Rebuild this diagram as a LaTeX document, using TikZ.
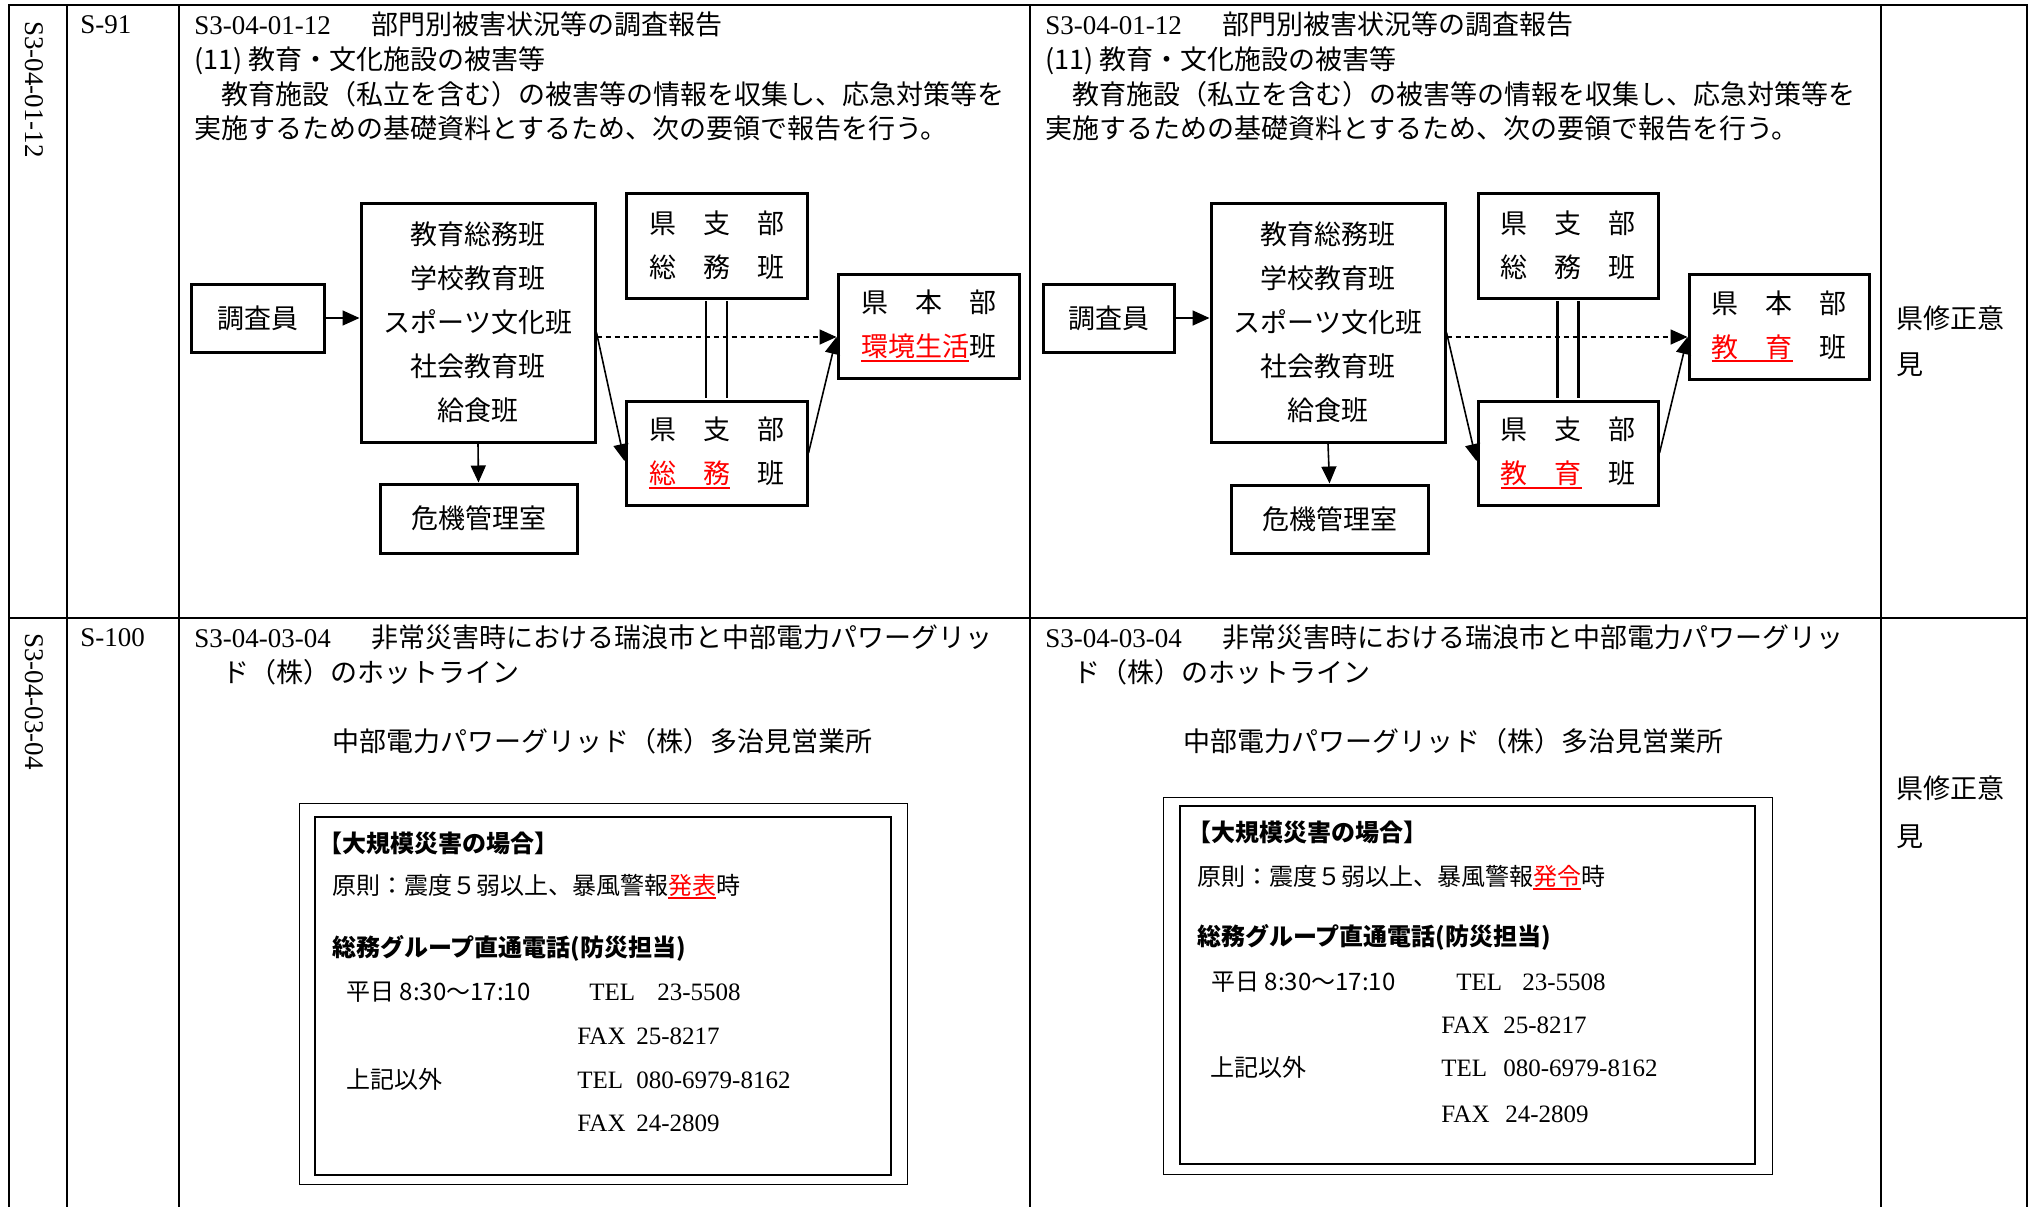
\documentclass[tikz,border=0pt]{standalone}
\usepackage{fontspec}
\setmainfont{Liberation Serif}
\newfontfamily\jp{Noto Sans CJK JP}
\usetikzlibrary{arrows.meta}
\newcommand\akasen[1]{{\color{red}\setbox0\hbox{#1}\rlap{\rule[-2.5pt]{\wd0}{1pt}}\box0}}
\tikzset{
  hyo/.style={line width=1.2pt, line cap=rect},
  waku/.style={draw, line width=1.5pt, inner sep=0pt, align=center, font=\jp\fontsize{13.5}{22}\selectfont},
  ya/.style={line width=0.8pt, -{Triangle[length=8.5pt,width=7.5pt]}},
  moji/.style={anchor=base west, inner sep=0pt, font=\jp\fontsize{13.5}{17}\selectfont},
  kigo/.style={anchor=base west, inner sep=0pt, font=\fontsize{13.5}{17}\selectfont},
  hot/.style={anchor=base west, inner sep=0pt, font=\jp\fontsize{12}{15}\selectfont},
  hotb/.style={hot, font=\jp\bfseries\fontsize{12}{15}\selectfont},
  bangou/.style={anchor=base west, inner sep=0pt, font=\fontsize{12.5}{15}\selectfont},
}
\begin{document}
\begin{tikzpicture}[x=0.5pt,y=-0.5pt]
\useasboundingbox (0,0) rectangle (2029,1206);

\draw[hyo] (9,5) -- (2027,5);
\draw[hyo] (9,618) -- (2027,618);
\draw[hyo] (9,5) -- (9,1206);
\draw[hyo] (67,5) -- (67,1206);
\draw[hyo] (179,5) -- (179,1206);
\draw[hyo] (1030,5) -- (1030,1206);
\draw[hyo] (1881,5) -- (1881,1206);
\draw[hyo] (2027,5) -- (2027,1206);

\node[kigo, rotate=-90, anchor=west] (tate1) at (34,21) {S3-04-01-12};
\node[kigo, rotate=-90, anchor=west] (tate2) at (34,633) {S3-04-03-04};
\node[kigo] (peji1) at (80,33) {S-91};
\node[kigo] (peji2) at (80,646) {S-100};

\node[kigo] (codeL1) at (194,34) {S3-04-01-12};
\node[moji] (titleL1) at (371,34) {部門別被害状況等の調査報告};
\node[moji] (komokuL1) at (194,69) {(11) 教育・文化施設の被害等};
\node[moji] (honbunL1) at (194,104) {　教育施設（私立を含む）の被害等の情報を収集し、応急対策等を};
\node[moji] (honbunL2) at (194,138) {実施するための基礎資料とするため、次の要領で報告を行う。};

\node[waku, minimum width=66.5pt, minimum height=34pt] (chosaL) at (257.5,318) {調査員};
\node[waku, minimum width=117pt, minimum height=119.5pt] (hanL) at (478,322.5) {教育総務班\\学校教育班\\スポーツ文化班\\社会教育班\\給食班};
\node[waku, minimum width=90.5pt, minimum height=52.5pt] (shibuL1) at (716.5,245.5) {県　支　部\\総　務　班};
\node[waku, minimum width=90.5pt, minimum height=52pt] (shibuL2) at (716.5,453) {県　支　部\\\akasen{総　務}　班};
\node[waku, minimum width=90.5pt, minimum height=52pt] (honbuL) at (928.5,326) {県　本　部\\\akasen{環境生活}班};
\node[waku, minimum width=98.5pt, minimum height=34.5pt] (kikiL) at (478.5,518.5) {危機管理室};

\draw[ya] (chosaL.east) -- (chosaL.east -| hanL.west);
\draw[ya] (hanL.south) -- (kikiL.north);
\draw[line width=1.3pt, double, double distance=9.2pt, shorten <=0.75pt, shorten >=0.75pt] (shibuL1.south) -- (shibuL2.north);
\draw[ya, dash pattern=on 2.5pt off 2pt] ([yshift=-7.25pt]hanL.east) -- ([yshift=-7.25pt]hanL.east -| honbuL.west);
\draw[ya] ([yshift=-5pt]hanL.east) -- ([yshift=-4pt]shibuL2.west);
\draw[ya] (shibuL2.east) -- ([yshift=-5.5pt]honbuL.west);

\node[kigo] (codeR1) at (1045,34) {S3-04-01-12};
\node[moji] (titleR1) at (1222,34) {部門別被害状況等の調査報告};
\node[moji] (komokuR1) at (1045,69) {(11) 教育・文化施設の被害等};
\node[moji] (honbunR1) at (1045,104) {　教育施設（私立を含む）の被害等の情報を収集し、応急対策等を};
\node[moji] (honbunR2) at (1045,138) {実施するための基礎資料とするため、次の要領で報告を行う。};

\node[waku, minimum width=65.5pt, minimum height=34pt] (chosaR) at (1108.5,318) {調査員};
\node[waku, minimum width=117pt, minimum height=119.5pt] (hanR) at (1328,322.5) {教育総務班\\学校教育班\\スポーツ文化班\\社会教育班\\給食班};
\node[waku, minimum width=90pt, minimum height=52.5pt] (shibuR1) at (1568,245.5) {県　支　部\\総　務　班};
\node[waku, minimum width=90pt, minimum height=52pt] (shibuR2) at (1568,453) {県　支　部\\\akasen{教　育}　班};
\node[waku, minimum width=90pt, minimum height=52.5pt] (honbuR) at (1779,326.5) {県　本　部\\\akasen{教　育}　班};
\node[waku, minimum width=98.5pt, minimum height=34pt] (kikiR) at (1329.5,519) {危機管理室};

\draw[ya] (chosaR.east) -- (chosaR.east -| hanR.west);
\draw[ya] (hanR.south) -- (kikiR.north);
\draw[line width=1.3pt, double, double distance=9.2pt, shorten <=0.75pt, shorten >=0.75pt] (shibuR1.south) -- (shibuR2.north);
\draw[ya, dash pattern=on 2.5pt off 2pt] ([yshift=-7.25pt]hanR.east) -- ([yshift=-7.25pt]hanR.east -| honbuR.west);
\draw[ya] ([yshift=-5pt]hanR.east) -- ([yshift=-4pt]shibuR2.west);
\draw[ya] (shibuR2.east) -- ([yshift=-5.25pt]honbuR.west);

\node[moji] (ikenA1) at (1896,328) {県修正意};
\node[moji] (ikenA2) at (1896,374) {見};

\node[kigo] (codeL2) at (194,647) {S3-04-03-04};
\node[moji] (titleL2) at (371,647) {非常災害時における瑞浪市と中部電力パワーグリッ};
\node[moji] (titleL3) at (222,682) {ド（株）のホットライン};
\node[moji] (eigyoL) at (332,751) {中部電力パワーグリッド（株）多治見営業所};

\draw[line width=0.5pt] (299,803) rectangle (907,1184);
\draw[line width=1pt] (315,817) rectangle (891,1175);
\node[hotb] (daikiboL) at (318,852) {【大規模災害の場合】};
\node[hot] (gensokuL) at (332,894) {原則：震度５弱以上、暴風警報\akasen{発表}時};
\node[hotb] (somuL) at (332,956) {総務グループ直通電話(防災担当)};
\node[hot] (heijitsuL) at (346,1000) {平日 8:30～17:10};
\node[bangou] (tel1L) at (589,1000) {TEL};
\node[bangou] (num1L) at (657,1000) {23-5508};
\node[bangou] (fax1L) at (577,1044) {FAX};
\node[bangou] (num2L) at (636,1044) {25-8217};
\node[hot] (igaiL) at (346,1088) {上記以外};
\node[bangou] (tel2L) at (577,1088) {TEL};
\node[bangou] (num3L) at (636,1088) {080-6979-8162};
\node[bangou] (fax2L) at (577,1131) {FAX};
\node[bangou] (num4L) at (636,1131) {24-2809};

\node[kigo] (codeR2) at (1045,647) {S3-04-03-04};
\node[moji] (titleR2) at (1222,647) {非常災害時における瑞浪市と中部電力パワーグリッ};
\node[moji] (titleR3) at (1073,682) {ド（株）のホットライン};
\node[moji] (eigyoR) at (1183,751) {中部電力パワーグリッド（株）多治見営業所};

\draw[line width=0.5pt] (1163,797) rectangle (1772,1174);
\draw[line width=1pt] (1180,806) rectangle (1755,1164);
\node[hotb] (daikiboR) at (1187,841) {【大規模災害の場合】};
\node[hot] (gensokuR) at (1197,885) {原則：震度５弱以上、暴風警報\akasen{発令}時};
\node[hotb] (somuR) at (1197,945) {総務グループ直通電話(防災担当)};
\node[hot] (heijitsuR) at (1211,990) {平日 8:30～17:10};
\node[bangou] (tel1R) at (1456,990) {TEL};
\node[bangou] (num1R) at (1522,990) {23-5508};
\node[bangou] (fax1R) at (1441,1033) {FAX};
\node[bangou] (num2R) at (1503,1033) {25-8217};
\node[hot] (igaiR) at (1210,1076) {上記以外};
\node[bangou] (tel2R) at (1441,1076) {TEL};
\node[bangou] (num3R) at (1503,1076) {080-6979-8162};
\node[bangou] (fax2R) at (1441,1122) {FAX};
\node[bangou] (num4R) at (1505,1122) {24-2809};

\node[moji] (ikenB1) at (1896,798) {県修正意};
\node[moji] (ikenB2) at (1896,846) {見};
\end{tikzpicture}
\end{document}
